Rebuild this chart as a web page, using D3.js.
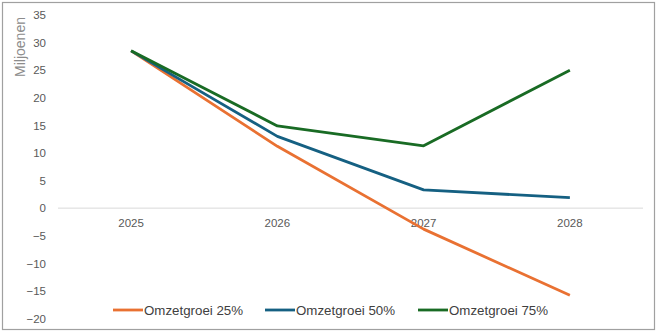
<!DOCTYPE html>
<html>
<head>
<meta charset="utf-8">
<script src="https://cdn.jsdelivr.net/npm/d3@7"></script>
<style>
  body { margin: 0; background: #fff; }
  svg { display: block; font-family: "Liberation Sans", Arial, sans-serif; }
</style>
</head>
<body>
<svg width="657" height="333"></svg>
<script>
// data
const years = ["2025", "2026", "2027", "2028"];
const groei25 = [28.5, 11.2, -3.8, -15.8];
const groei50 = [28.5, 13.0, 3.3, 1.9];
const groei75 = [28.5, 14.9, 11.3, 25.0];
const seriesNames = ["Omzetgroei 25%", "Omzetgroei 50%", "Omzetgroei 75%"];
const yTicks = [-20, -15, -10, -5, 0, 5, 10, 15, 20, 25, 30, 35];

const colors = ["#E97132", "#156082", "#196B24"];
const series = [groei25, groei50, groei75];

const svg = d3.select("svg");
const margin = {top: 15, right: 14, bottom: 15, left: 58};
const width = 657, height = 333;

// outer frame
svg.append("rect")
  .attr("x", 2.5).attr("y", 2.5)
  .attr("width", width - 5).attr("height", height - 6)
  .attr("fill", "none").attr("stroke", "#a0a0a0").attr("stroke-width", 1.2);

const x = d3.scaleBand()
  .domain(years)
  .range([margin.left, width - margin.right]);

const y = d3.scaleLinear()
  .domain([-20, 35])
  .range([318.5, 15]);

// zero line
svg.append("line")
  .attr("x1", margin.left).attr("x2", width - margin.right)
  .attr("y1", y(0)).attr("y2", y(0))
  .attr("stroke", "#d9d9d9").attr("stroke-width", 1);

// y axis labels
const yAxis = (g) => g
  .attr("transform", `translate(${margin.left - 12},0)`)
  .call(d3.axisLeft(y).tickValues(yTicks).tickSize(0).tickPadding(0))
  .call((g) => g.select(".domain").remove())
  .call((g) => g.selectAll("text")
    .attr("fill", "#595959").attr("font-size", 11.5)
    .attr("font-family", "Liberation Sans, Arial, sans-serif"));
svg.append("g").call(yAxis);

// x axis labels, just under the zero line
const xAxis = (g) => g
  .attr("transform", `translate(0,${y(0)})`)
  .call(d3.axisBottom(x).tickSize(0).tickPadding(11))
  .call((g) => g.select(".domain").remove())
  .call((g) => g.selectAll("text")
    .attr("fill", "#595959").attr("font-size", 11.5)
    .attr("font-family", "Liberation Sans, Arial, sans-serif"));
svg.append("g").call(xAxis);

// axis title
svg.append("text")
  .attr("transform", "translate(25,47) rotate(-90)")
  .attr("text-anchor", "middle")
  .attr("fill", "#8c8c8c").attr("font-size", 14)
  .text("Miljoenen");

const line = d3.line()
  .x((d, i) => x(years[i]) + x.bandwidth() / 2)
  .y((d) => y(d));

// green drawn last so it sits on top like the reference
series.forEach((s, i) => {
  svg.append("path")
    .datum(s)
    .attr("fill", "none")
    .attr("stroke", colors[i])
    .attr("stroke-width", 2.8)
    .attr("stroke-linejoin", "round")
    .attr("stroke-linecap", "butt")
    .attr("d", line);
});

// legend
const legendX = [113, 265, 418];
const legend = svg.append("g");
seriesNames.forEach((name, i) => {
  legend.append("line")
    .attr("x1", legendX[i]).attr("x2", legendX[i] + 30)
    .attr("y1", 310).attr("y2", 310)
    .attr("stroke", colors[i]).attr("stroke-width", 2.8);
  legend.append("text")
    .attr("x", legendX[i] + 31).attr("y", 314.8)
    .attr("fill", "#404040").attr("font-size", 13.3)
    .text(name);
});
</script>
</body>
</html>
